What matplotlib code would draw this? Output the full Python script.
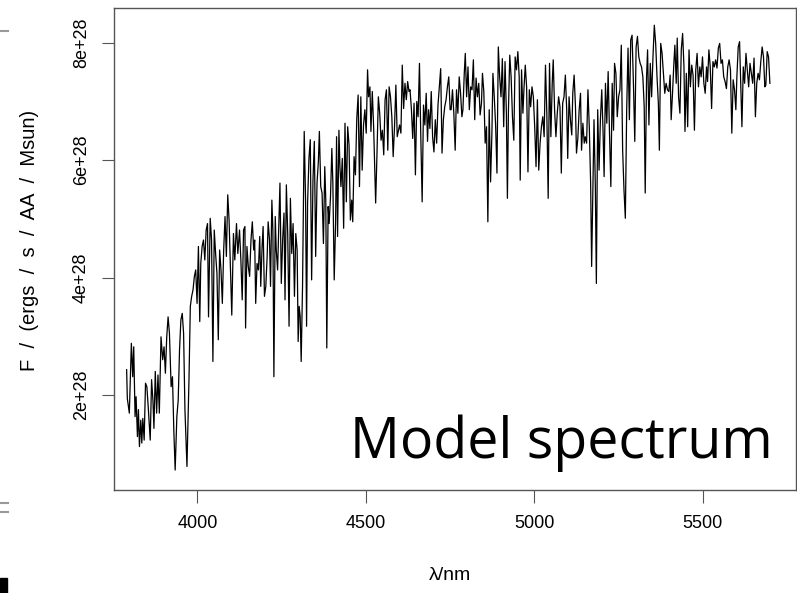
import numpy as np
import matplotlib
matplotlib.use("Agg")
from matplotlib import pyplot as plt
from matplotlib.patches import Rectangle
from matplotlib.lines import Line2D

# spectre (longueur d'onde, flux en unites de 1e28)
wave = [3790, 3792, 3798, 3804, 3808, 3811, 3815, 3818, 3822, 3825, 3828, 3832, 3835, 3838, 3842, 3846, 3850, 3854, 3860, 3864,
        3868, 3871, 3875, 3879, 3883, 3887, 3892, 3897, 3901, 3905, 3909, 3913, 3917, 3922, 3926, 3930, 3934, 3939, 3943, 3947,
        3951, 3955, 3959, 3963, 3969, 3975, 3979, 3983, 3987, 3991, 3995, 3999, 4003, 4007, 4010, 4014, 4018, 4022, 4026, 4030,
        4033, 4038, 4042, 4046, 4050, 4054, 4058, 4062, 4066, 4070, 4074, 4078, 4082, 4086, 4090, 4094, 4098,
        4102, 4107, 4111, 4116, 4120, 4125, 4129, 4133, 4137, 4141, 4143, 4147, 4151, 4155, 4159, 4163, 4167, 4170, 4173, 4177,
        4181, 4185, 4188, 4192, 4195, 4199, 4203, 4207, 4210, 4214, 4217, 4221, 4224, 4227, 4231, 4234, 4238, 4242, 4245, 4249,
        4253, 4257, 4260, 4264, 4268, 4272, 4276, 4280, 4284, 4288, 4292, 4296, 4299, 4302, 4305, 4308, 4312, 4317, 4321, 4324,
        4327, 4331, 4335, 4339, 4343, 4347, 4351, 4355, 4359, 4362, 4366, 4370, 4374, 4378, 4381, 4384, 4388, 4391, 4395, 4399,
        4402, 4406, 4410, 4413, 4416, 4420, 4423,
        4426, 4430, 4434, 4438, 4442, 4446, 4450, 4454, 4458, 4461, 4465, 4469, 4473, 4477, 4481, 4485, 4489, 4493, 4497, 4501,
        4505, 4508, 4512, 4515, 4519, 4523, 4526, 4529, 4533, 4537, 4541, 4545, 4549, 4553, 4557, 4561, 4565, 4569, 4573, 4577,
        4581, 4585, 4589, 4593, 4597, 4600, 4604, 4608, 4612, 4616, 4620, 4624, 4628, 4631, 4635, 4639, 4643, 4647, 4651, 4655,
        4659, 4663, 4667, 4671, 4675, 4679, 4683, 4686, 4690, 4694, 4698, 4702, 4706, 4710, 4714, 4718, 4722, 4726, 4730, 4734,
        4738, 4742, 4746, 4750,
        4753, 4757, 4761, 4765, 4769, 4773, 4777, 4781, 4785, 4788, 4792, 4795, 4799, 4803, 4807, 4811, 4815, 4819, 4823, 4827,
        4831, 4835, 4839, 4843, 4846, 4850, 4854, 4858, 4862, 4866, 4870, 4874, 4877, 4881, 4885, 4889, 4893, 4897, 4901, 4905,
        4909, 4913, 4917, 4920, 4923, 4927, 4931, 4935, 4939, 4943, 4947, 4951, 4955, 4958, 4962, 4966, 4969, 4973, 4977, 4981,
        4985, 4989, 4993, 4997, 5001, 5005, 5009, 5013, 5017, 5021, 5025, 5029, 5033, 5037, 5041, 5045, 5049, 5053, 5056, 5060,
        5064, 5068, 5072, 5076,
        5080, 5084, 5088, 5092, 5096, 5099, 5103, 5107, 5111, 5114, 5118, 5122, 5125, 5129, 5133, 5137, 5140, 5144, 5148, 5151,
        5155, 5159, 5163, 5167, 5170, 5174, 5177, 5181, 5184, 5188, 5192, 5196, 5200, 5204, 5207, 5211, 5215, 5219, 5223, 5227,
        5231, 5235, 5238, 5242, 5246, 5250, 5254, 5258, 5262, 5266, 5270, 5274, 5278, 5282, 5286, 5290, 5294, 5298, 5302, 5306,
        5310, 5314, 5318, 5322, 5326, 5329, 5333, 5336, 5340, 5344, 5348, 5352, 5356, 5360, 5364, 5368, 5371, 5375, 5379, 5383,
        5387, 5391, 5395, 5399, 5403,
        5406, 5410, 5414, 5417, 5421, 5424, 5428, 5432, 5436, 5440, 5444, 5447, 5451, 5455, 5459, 5463, 5467, 5471, 5475, 5479,
        5483, 5487, 5491, 5495, 5499, 5503, 5507, 5511, 5514, 5518, 5522, 5526, 5530, 5534, 5538, 5542, 5546, 5550, 5554, 5558,
        5562, 5566, 5570, 5574, 5578, 5582, 5586, 5590, 5594, 5598, 5601, 5605, 5609, 5613, 5616, 5620, 5624, 5628, 5632, 5636,
        5640, 5644, 5648, 5652, 5656, 5660, 5664, 5668, 5672, 5676, 5680, 5684, 5687, 5691, 5695, 5699]

flux = [2.43, 1.94, 1.69, 2.88, 2.31, 2.82, 1.63, 1.97, 1.29, 1.75, 1.12, 1.57, 1.18, 1.60, 1.23, 2.20, 2.14, 1.80, 1.23, 2.26,
        1.91, 1.43, 2.40, 1.69, 2.34, 1.69, 2.99, 2.60, 2.82, 2.37, 2.99, 3.33, 3.05, 2.14, 2.31, 1.40, 0.72, 1.63, 1.91, 2.77,
        3.28, 3.39, 3.05, 1.75, 0.78, 2.26, 3.51, 3.68, 3.79, 4.02, 4.13, 3.56, 4.53, 3.25, 4.24, 4.53, 4.64, 4.30, 4.81, 4.92,
        3.33, 5.01, 4.64, 2.57, 4.81, 4.41, 4.07, 2.94, 4.47, 4.13, 3.56, 4.47, 5.04, 4.36, 5.41, 4.98, 4.19,
        3.36, 4.75, 4.30, 4.92, 4.41, 4.81, 4.30, 3.62, 4.81, 4.87, 3.14, 4.53, 4.19, 4.02, 4.64, 4.95, 4.47, 4.64, 3.56, 4.24,
        4.13, 4.70, 3.85, 4.53, 4.87, 3.68, 3.85, 4.36, 4.95, 4.64, 3.85, 5.32, 4.81, 2.31, 5.04, 4.47, 4.13, 4.98, 5.61, 3.90,
        4.64, 5.10, 3.62, 5.58, 4.75, 3.17, 5.35, 4.41, 4.92, 3.68, 4.75, 4.47, 2.91, 3.51, 3.34, 2.57, 3.85, 6.49, 5.32, 3.17,
        5.27, 6.03, 6.35, 3.96, 5.66, 6.32, 4.36, 5.61, 5.98, 6.49, 5.55, 5.44, 4.58, 5.89, 5.32, 2.80, 5.21, 4.92, 5.38, 6.20,
        5.61, 3.96, 4.92, 6.40, 4.70, 6.51, 5.89,
        5.55, 6.03, 4.84, 6.63, 5.29, 6.57, 6.26, 4.98, 5.32, 4.95, 6.06, 5.75, 6.71, 7.11, 5.55, 7.08, 5.83, 6.60, 6.86, 6.46,
        7.54, 7.08, 7.25, 6.49, 7.17, 6.57, 5.95, 5.27, 6.12, 7.08, 6.80, 6.34, 6.51, 6.09, 7.03, 7.20, 6.17, 7.25, 7.08, 6.74,
        6.06, 6.57, 7.28, 6.40, 6.51, 6.60, 6.46, 7.62, 6.88, 7.31, 7.03, 7.34, 7.17, 7.20, 6.88, 6.37, 6.97, 5.75, 7.00, 6.74,
        7.65, 6.40, 5.29, 6.94, 6.60, 7.14, 6.32, 6.86, 6.54, 7.17, 6.40, 6.14, 6.69, 6.29, 6.94, 7.25, 7.56, 6.12, 6.69, 6.91,
        7.03, 7.25, 7.42, 6.86,
        6.86, 7.20, 6.80, 6.17, 7.20, 6.80, 7.42, 7.14, 6.74, 6.86, 7.48, 7.82, 7.08, 7.59, 6.86, 7.25, 7.20, 7.71, 6.69, 7.40,
        7.08, 7.31, 6.77, 6.97, 7.48, 7.17, 6.29, 6.57, 4.95, 6.86, 5.63, 6.46, 7.48, 7.08, 6.60, 5.78, 7.93, 7.42, 7.08, 7.73,
        6.57, 7.68, 6.80, 5.35, 6.83, 7.79, 7.42, 6.74, 6.34, 7.76, 7.54, 7.85, 7.42, 5.66, 7.54, 6.80, 7.20, 7.62, 7.25, 5.80,
        7.20, 6.91, 7.25, 7.08, 6.57, 5.89, 7.03, 5.83, 6.29, 6.57, 6.74, 6.40, 7.62, 6.80, 5.35, 7.65, 6.40, 7.31, 7.71, 6.86,
        6.40, 6.80, 7.08, 6.91,
        5.78, 6.97, 7.08, 7.45, 6.86, 6.03, 7.08, 6.69, 6.43, 7.14, 7.45, 6.91, 6.12, 6.37, 6.86, 7.14, 6.17, 6.63, 6.29, 6.40,
        6.29, 7.20, 6.57, 5.61, 4.19, 5.64, 6.69, 5.55, 3.90, 6.86, 5.83, 6.69, 7.20, 6.46, 5.72, 7.31, 6.63, 7.51, 6.46, 5.55,
        7.31, 6.51, 7.65, 7.48, 6.74, 7.08, 7.20, 7.96, 6.17, 5.49, 5.01, 6.86, 7.91, 6.69, 8.05, 8.13, 7.31, 6.32, 7.93, 8.11,
        7.76, 7.65, 7.59, 7.42, 6.91, 5.44, 7.42, 7.88, 6.60, 7.65, 7.08, 7.76, 8.30, 7.99, 7.42, 6.97, 6.17, 7.99, 7.82, 7.48,
        7.14, 7.31, 7.20, 7.17, 7.45,
        6.69, 7.14, 7.65, 7.96, 7.31, 8.08, 7.08, 6.80, 7.88, 8.16, 7.59, 6.49, 7.48, 6.57, 7.88, 7.25, 7.62, 7.45, 6.51, 7.54,
        7.82, 7.25, 7.59, 7.42, 7.76, 7.31, 7.14, 7.59, 7.34, 7.88, 7.59, 6.88, 7.68, 7.59, 7.71, 7.57, 7.91, 7.99, 7.65, 7.71,
        7.42, 7.34, 7.22, 7.59, 7.71, 7.54, 6.46, 7.37, 7.20, 6.86, 7.42, 7.93, 8.02, 7.20, 6.57, 7.59, 7.31, 7.82, 7.54, 7.25,
        7.65, 7.48, 7.31, 7.74, 6.74, 7.31, 7.48, 7.37, 7.68, 7.93, 7.76, 7.25, 7.28, 7.85, 7.76, 7.31]

x_ticks = [4000, 4500, 5000, 5500]
y_ticks = [2e28, 4e28, 6e28, 8e28]
y_tick_labels = ["2e+28", "4e+28", "6e+28", "8e+28"]

W, H = 797, 593
fig = plt.figure(figsize=(W / 100, H / 100), dpi=100)
ax = fig.add_axes([113.5 / W, 1 - 490 / H, 682 / W, 482.4 / H])

ax.plot(wave, np.array(flux) * 1e28, color="black", lw=0.9)
ax.set_xlim(3751, 5775)
ax.set_ylim(0.38e28, 8.6e28)

police = ["Liberation Sans Narrow", "Liberation Sans", "DejaVu Sans"]
ax.set_xticks(x_ticks)
ax.set_xticklabels([str(t) for t in x_ticks], family=police, fontsize=13)
ax.set_yticks(y_ticks)
ax.set_yticklabels(y_tick_labels, family=police, fontsize=13, rotation=90, va="center")
ax.tick_params(direction="out", length=9, width=0.8, color="#555555", pad=9)
ax.tick_params(axis="y", pad=8)
for s in ax.spines.values():
    s.set_color("#555555")
    s.set_linewidth(1.0)

fig.text(450 / W, 1 - 575 / H, "λ/nm", family=police, fontsize=14, ha="center", va="center")
fig.text(30 / W, 1 - 240 / H, "F  /  (ergs  /  s  /  AA  /  Msun)", family=police, fontsize=14.5,
         rotation=90, ha="center", va="center")

ax.text(0.967, 0.066, "Model spectrum", transform=ax.transAxes, family=["Open Sans", "DejaVu Sans"],
        fontsize=40, ha="right", va="baseline")

# restes de la diapositive au bord gauche
fig.add_artist(Line2D([0, 8 / W], [1 - 31 / H] * 2, color="#999999", lw=1.5))
fig.add_artist(Line2D([0, 8 / W], [1 - 503 / H] * 2, color="#999999", lw=1.5))
fig.add_artist(Line2D([0, 8 / W], [1 - 512 / H] * 2, color="#999999", lw=1.5))
fig.add_artist(Rectangle((0, 0), 7 / W, 15 / H, transform=fig.transFigure, color="black"))

fig.savefig("out.png", dpi=100)
